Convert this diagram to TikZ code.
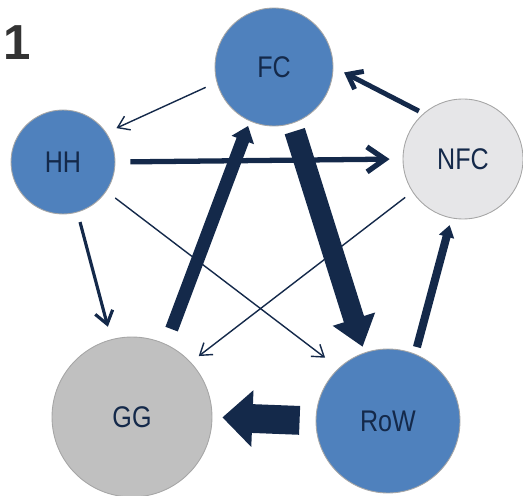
\documentclass[tikz,border=0pt]{standalone}
\usepackage{fontspec}
\setmainfont{Liberation Sans}
\newfontfamily\narrowfont[FakeStretch=0.84]{Liberation Sans}
\usetikzlibrary{arrows.meta}
\definecolor{flowblue}{HTML}{4F81BD}
\definecolor{flownavy}{HTML}{14294A}
\definecolor{gggray}{HTML}{C0C0C0}
\definecolor{nfcgray}{HTML}{E6E6E8}

\begin{document}
\begin{tikzpicture}[x=0.02cm, y=-0.02cm,
    sector/.style={circle, draw=gray!70, line width=0.5pt, inner sep=0pt,
        font=\narrowfont\fontsize{17}{17}\selectfont, text=flownavy},
    flow/.style={draw=flownavy},
    thin flow/.style={flow, line width=0.8pt,
        -{Straight Barb[length=0.22cm,width=0.3cm]}}]
    \useasboundingbox (0,0) rectangle (523,496);
    % Sektoren
    \node[sector, fill=flowblue, minimum size=2.36cm] (fc) at (274,67) {FC};
    \node[sector, fill=flowblue, minimum size=2.08cm] (hh) at (63,162) {HH};
    \node[sector, fill=nfcgray, minimum size=2.4cm] (nfc) at (463,159) {NFC};
    \node[sector, fill=gggray, minimum size=3.2cm] (gg) at (132,417) {GG};
    \node[sector, fill=flowblue, minimum size=2.88cm] (row) at (388,421) {RoW};
    \node[font=\bfseries\fontsize{28}{28}\selectfont, text=black!80] (num) at (17,43) {1};
    % duenne Stroeme
    \draw[thin flow, shorten <=0.24cm, shorten >=0.22cm] (fc.195) -- (hh.34);
    \draw[thin flow, shorten <=0.22cm, shorten >=0.34cm] (hh.326) -- (row.133);
    \draw[thin flow, shorten <=0.18cm, shorten >=0.2cm] (nfc.213) -- (gg.43);
    % mittlere Stroeme
    \draw[flow, line width=1.8pt, -{Straight Barb[length=0.25cm,width=0.36cm]},
        shorten <=0.2cm, shorten >=0.26cm] (hh.286) -- (gg.105);
    \draw[flow, line width=2.8pt, -{Straight Barb[length=0.26cm,width=0.4cm]},
        shorten <=0.1cm, shorten >=0.24cm] (nfc.131) -- (fc.0);
    \draw[flow, line width=3pt, -{Straight Barb[length=0.36cm,width=0.5cm]},
        shorten <=0.3cm, shorten >=0.26cm] (hh.0) -- (nfc.180);
    % dicke Stroeme
    \draw[flow, line width=7.5pt, -{Triangle[length=0.3cm,width=0.46cm]},
        shorten <=0.32cm, shorten >=0.1cm] (gg.65) -- (fc.246);
    \draw[flow, line width=12pt, -{Triangle[length=0.58cm,width=0.85cm]},
        shorten <=0.16cm, shorten >=0.12cm] (fc.288) -- (row.109);
    \draw[flow, line width=4.6pt, -{Triangle[length=0.24cm,width=0.3cm]},
        shorten <=0.14cm, shorten >=0.14cm] (row.68) -- (nfc.259);
    \draw[flow, line width=16.4pt, -{Triangle[length=0.6cm,width=1.1cm]},
        shorten <=0.32cm, shorten >=0.2cm] (row.180) -- (gg.0);
\end{tikzpicture}
\end{document}
